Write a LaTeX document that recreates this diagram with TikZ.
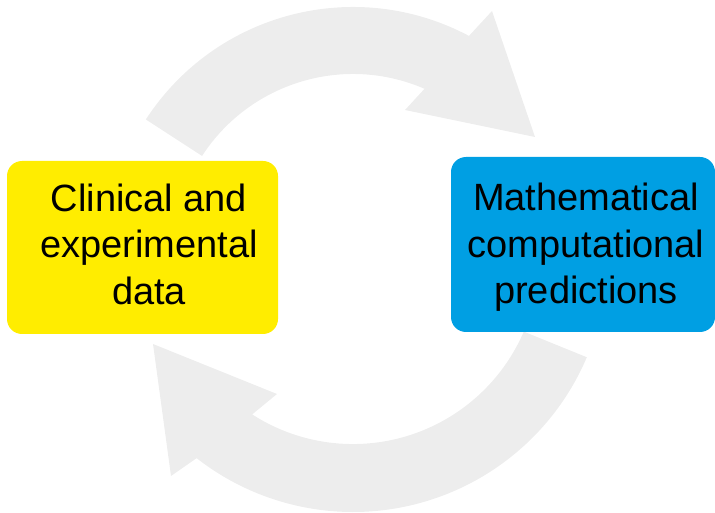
\documentclass[tikz,border=0pt]{standalone}
\usepackage{fontspec}
\setmainfont{Liberation Sans}
\usepackage{tikz}
\usetikzlibrary{positioning}

\definecolor{datayellow}{HTML}{FFED00}
\definecolor{modelblue}{HTML}{009FE3}
\definecolor{loopgrey}{HTML}{EDEDED}

\tikzset{
    box/.style = {shape = rectangle, rounded corners = 15pt, inner sep = 0pt, draw = none},
    boxtext/.style = {align = center, inner sep = 0pt, font = \fontsize{38}{46.5}\selectfont},
    looparrow/.style = {fill = loopgrey, draw = none}
}

\begin{document}
\begin{tikzpicture}[x = 1pt, y = 1pt]
                \useasboundingbox (0, 0) rectangle (715, 512);

                \fill [looparrow] (353, 258) ++(147:247) arc (147:62:247)
                    -- (492, 501) -- (535, 375) -- (405, 402) -- (424.5, 423.2)
                    arc (66.6:147:180) -- cycle;
                \fill [looparrow] (353, 254) ++(-23:254) arc (-23:-128:254)
                    -- (171, 36) -- (153, 168) -- (277, 118) -- (252.2, 97.6)
                    arc (-122.8:-23.3:186) -- cycle;

                \node [box, fill = datayellow, minimum width = 271pt, minimum height = 173pt] (data) at (142.5, 264.5) {};
                \node [box, fill = modelblue, minimum width = 264pt, minimum height = 175pt] (model) at (583, 267.5) {};
                \node [boxtext] (datatext) at (149, 267.8) {Clinical and\\experimental\\data};
                \node [boxtext] (modeltext) at (586, 264.7) {Mathematical\\computational\\predictions};
            \end{tikzpicture}
\end{document}
